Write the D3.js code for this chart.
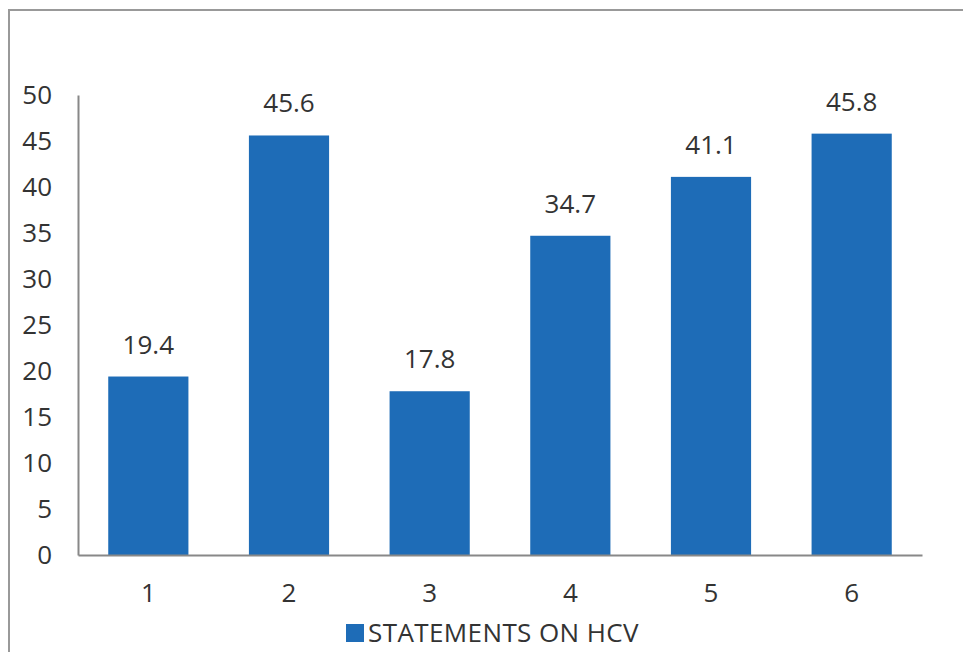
<!DOCTYPE html>
<html>
<head>
<meta charset="utf-8">
<title>Statements on HCV</title>
<style>
  body { margin: 0; background: #fff; }
  text { font-family: "Open Sans", "Noto Sans", sans-serif; fill: #333; }
</style>
</head>
<body>
<svg id="chart" width="963" height="652"></svg>
<script src="https://d3js.org/d3.v7.min.js"></script>
<script>
  // data
  var categories = ["1", "2", "3", "4", "5", "6"];
  var values = [19.4, 45.6, 17.8, 34.7, 41.1, 45.8];
  var yTicks = [0, 5, 10, 15, 20, 25, 30, 35, 40, 45, 50];
  var seriesName = "STATEMENTS ON HCV";

  var svg = d3.select("#chart");
  var barColor = "#1e6cb7";
  var fontSize = "26px";

  // outer frame (top and left edge only visible)
  svg.append("path")
    .attr("d", "M9,652 L9,10 L963,10")
    .attr("fill", "none")
    .attr("stroke", "#999")
    .attr("stroke-width", 2);

  var x = d3.scaleBand()
    .domain(categories)
    .range([78, 922])
    .paddingInner(0.43)
    .paddingOuter(0.215);

  var y = d3.scaleLinear()
    .domain([0, 50])
    .range([555, 95]);

  // y axis
  var yAxis = svg.append("g")
    .attr("transform", "translate(78,0)")
    .call(d3.axisLeft(y).tickValues(yTicks).tickSize(0).tickPadding(26));
  yAxis.select(".domain").attr("stroke", "#888").attr("stroke-width", 2);
  yAxis.selectAll("text")
    .style("font-size", fontSize)
    .attr("fill", "#333")
    .style("font-family", "'Open Sans', 'Noto Sans', sans-serif");

  // bars
  svg.selectAll("rect.bar")
    .data(values)
    .join("rect")
    .attr("class", "bar")
    .attr("x", (d, i) => x(categories[i]))
    .attr("width", x.bandwidth())
    .attr("y", d => y(d))
    .attr("height", d => y(0) - y(d))
    .attr("fill", barColor);

  // x axis
  var xAxis = svg.append("g")
    .attr("transform", "translate(0,555)")
    .call(d3.axisBottom(x).tickSize(0).tickPadding(29));
  xAxis.select(".domain").attr("stroke", "#888").attr("stroke-width", 2);
  xAxis.selectAll("text")
    .style("font-size", fontSize)
    .attr("fill", "#333")
    .style("font-family", "'Open Sans', 'Noto Sans', sans-serif");

  // value labels
  svg.selectAll("text.val")
    .data(values)
    .join("text")
    .attr("class", "val")
    .attr("x", (d, i) => x(categories[i]) + x.bandwidth() / 2)
    .attr("y", d => y(d) - 23)
    .attr("text-anchor", "middle")
    .style("font-size", fontSize)
    .text(d => d3.format(".1f")(d));

  // legend
  var legend = svg.append("g").attr("transform", "translate(346,633)");
  legend.append("rect")
    .attr("x", 0).attr("y", -9)
    .attr("width", 18).attr("height", 18)
    .attr("fill", barColor);
  legend.append("text")
    .attr("x", 22).attr("y", 0)
    .attr("dy", "0.35em")
    .style("font-size", fontSize)
    .style("letter-spacing", "0.4px")
    .text(seriesName);
</script>
</body>
</html>
